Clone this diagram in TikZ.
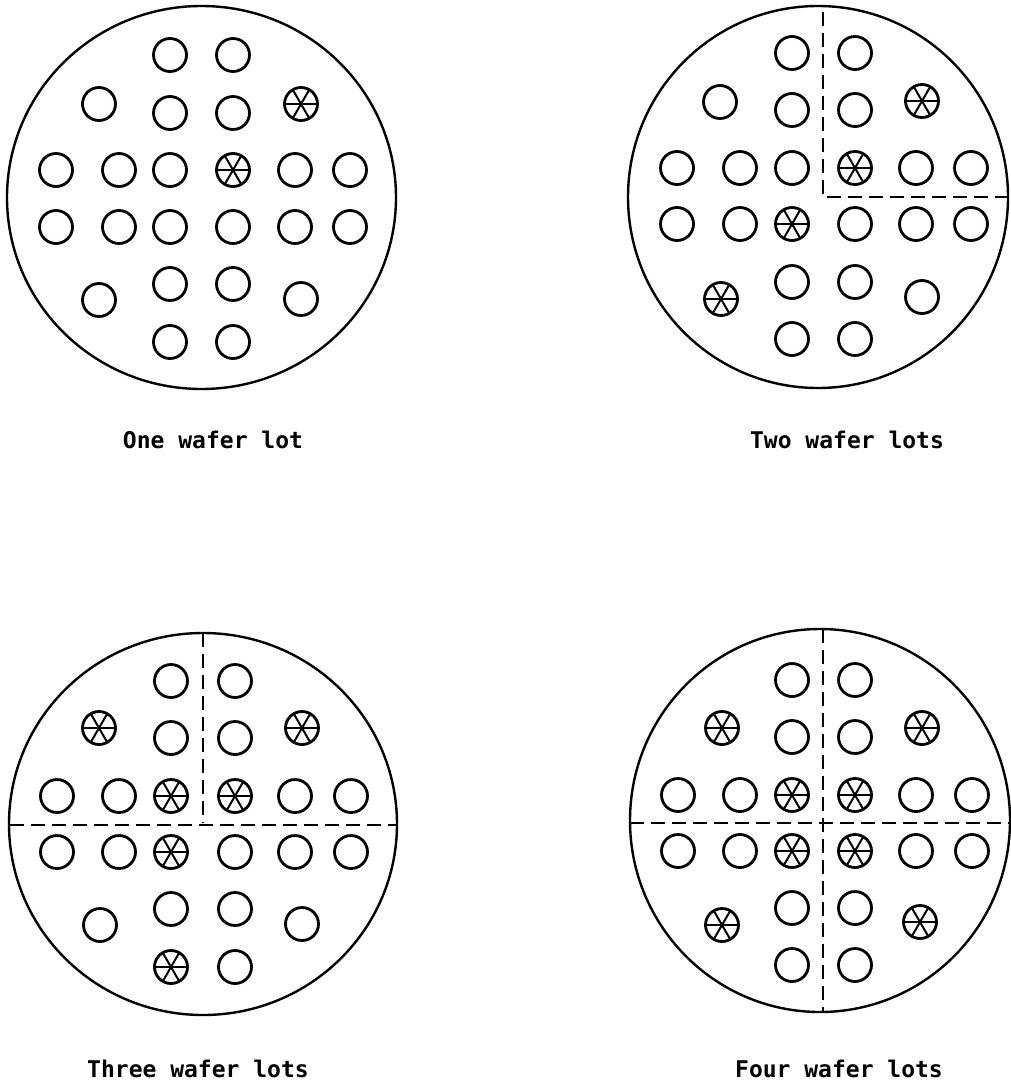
\documentclass[tikz,border=0pt]{standalone}
\usepackage{fontspec}
\setmonofont{DejaVu Sans Mono}
\begin{document}
\begin{tikzpicture}[x=1pt,y=-1pt,
  wafer/.style={draw, line width=2.4pt},
  die/.style={circle, draw, line width=2.8pt, minimum size=33pt, inner sep=0pt},
  sampled/.style={die, path picture={
      \foreach \a in {0,60,120}{
        \draw[line width=2pt] (path picture bounding box.center) -- ++(\a:20pt)
                              (path picture bounding box.center) -- ++(\a+180:20pt);}}},
  divider/.style={draw, line width=2.3pt, dash pattern=on 14pt off 7pt},
  caption/.style={font=\ttfamily\bfseries\fontsize{23}{28}\selectfont, inner sep=0pt}]
\useasboundingbox (0,0) rectangle (1010,1084);

% ---------- wafer 1 : one wafer lot ----------
\draw[wafer] (201.5,197.5) ellipse [x radius=194.5, y radius=191.5];
\foreach \x/\y [count=\i] in {170/55,233/55,
    99/104,170/113,233/113,
    56/170,119/170,170/170,295/170,350/170,
    56/227,119/227,170/227,233/227,295/227,350/227,
    99/300,170/284,233/284,301/299,
    170/342,233/342}
  \node[die] (wa\i) at (\x,\y) {};
\foreach \x/\y [count=\i] in {301/104,233/170}
  \node[sampled] (wax\i) at (\x,\y) {};
\node[caption] (capa) at (213,440) {One wafer lot};

% ---------- wafer 2 : two wafer lots ----------
\draw[wafer] (818,197) ellipse [x radius=190, y radius=191];
\draw[divider] (823,12) -- (823,197) -- (1008,197);
\foreach \x/\y [count=\i] in {792/53,855/53,
    720/102,792/110,855/110,
    677/168,740/168,792/168,916/168,971/168,
    677/224,740/224,855/224,916/224,971/224,
    792/282,855/282,922/297,
    792/339,855/339}
  \node[die] (wb\i) at (\x,\y) {};
\foreach \x/\y [count=\i] in {922/101,855/168,792/224,721/299}
  \node[sampled] (wbx\i) at (\x,\y) {};
\node[caption] (capb) at (847,440) {Two wafer lots};

% ---------- wafer 3 : three wafer lots ----------
\draw[wafer] (203,824) ellipse [x radius=194, y radius=191];
\draw[divider] (203,633) -- (203,823);
\draw[divider] (10,825) -- (397,825);
\foreach \x/\y [count=\i] in {171/681,235/681,
    171/738,235/738,
    57/796,119/796,295/796,351/796,
    57/852,119/852,235/852,295/852,351/852,
    100/925,171/909,235/909,302/924,
    235/967}
  \node[die] (wc\i) at (\x,\y) {};
\foreach \x/\y [count=\i] in {99/728,302/728,171/796,235/796,171/852,171/967}
  \node[sampled] (wcx\i) at (\x,\y) {};
\node[caption] (capc) at (198,1069) {Three wafer lots};

% ---------- wafer 4 : four wafer lots ----------
\draw[wafer] (820,820.5) ellipse [x radius=190, y radius=191.5];
\draw[divider] (823,629) -- (823,1012);
\draw[divider] (630,823) -- (1009,823);
\foreach \x/\y [count=\i] in {792/680,855/680,
    792/737,855/737,
    678/795,740/795,916/795,972/795,
    678/851,740/851,916/851,972/851,
    792/908,855/908,
    792/965,855/965}
  \node[die] (wd\i) at (\x,\y) {};
\foreach \x/\y [count=\i] in {722/728,922/728,792/795,855/795,792/851,855/851,722/925,920/922}
  \node[sampled] (wdx\i) at (\x,\y) {};
\node[caption] (capd) at (839,1069) {Four wafer lots};
\end{tikzpicture}
\end{document}
